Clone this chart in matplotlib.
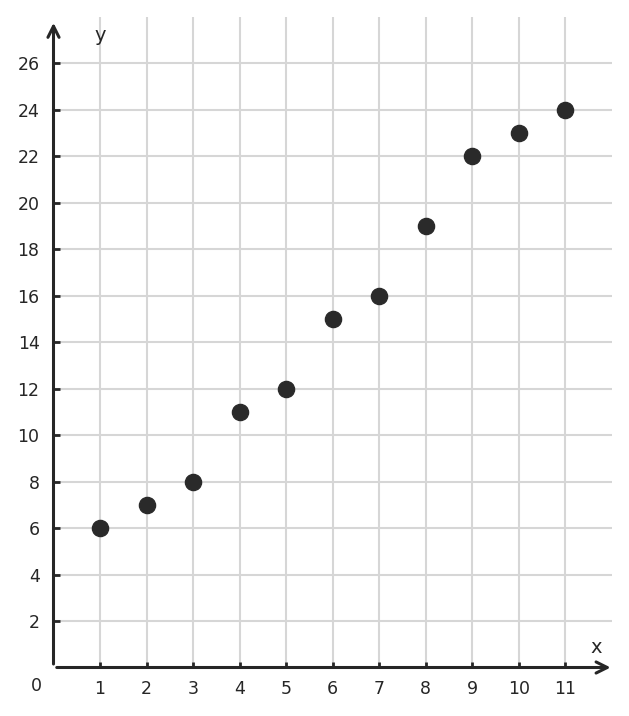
import matplotlib
matplotlib.use("Agg")
import matplotlib.pyplot as plt

plt.rcParams["font.family"] = ["DejaVu Sans"]

x_vals = [1, 2, 3, 4, 5, 6, 7, 8, 9, 10, 11]
y_vals = [6, 7, 8, 11, 12, 15, 16, 19, 22, 23, 24]
x_ticks = list(range(1, 12))
y_ticks = list(range(2, 27, 2))

dark = "#262626"

fig = plt.figure(figsize=(6.29, 7.16), dpi=100)
ax = fig.add_axes([53.5 / 629, (716 - 667.5) / 716, (612 - 53.5) / 629, (667.5 - 17) / 716])
ax.set_xlim(0, 12)
ax.set_ylim(0, 28)

for s in ax.spines.values():
    s.set_visible(False)

ax.set_xticks(x_ticks)
ax.set_yticks(y_ticks)
ax.grid(True, color="#d6d6d6", linewidth=1.5)
ax.set_axisbelow(True)
ax.tick_params(direction="in", length=4, width=2, color=dark, labelsize=12.5,
               labelcolor=dark)
ax.tick_params(axis="x", pad=9)
ax.tick_params(axis="y", pad=10)

# axes with arrow heads
ax.annotate("", xy=(11.97, 0), xytext=(0.07, 0),
            arrowprops=dict(arrowstyle="->", color=dark, lw=2.2,
                            mutation_scale=20, shrinkA=0, shrinkB=0),
            annotation_clip=False)
ax.annotate("", xy=(0, 27.75), xytext=(0, 0.15),
            arrowprops=dict(arrowstyle="->", color=dark, lw=2.2,
                            mutation_scale=20, shrinkA=0, shrinkB=0),
            annotation_clip=False)

ax.scatter(x_vals, y_vals, s=135, color="#2a2a2a", zorder=5, clip_on=False)

ax.text(1.0, 27.2, "y", fontsize=14, color=dark, ha="center", va="center")
ax.text(11.66, 0.85, "x", fontsize=14, color=dark, ha="center", va="center")
ax.text(-0.36, -0.8, "0", fontsize=12.5, color=dark, ha="center", va="center")

fig.savefig("out.png", dpi=100)
